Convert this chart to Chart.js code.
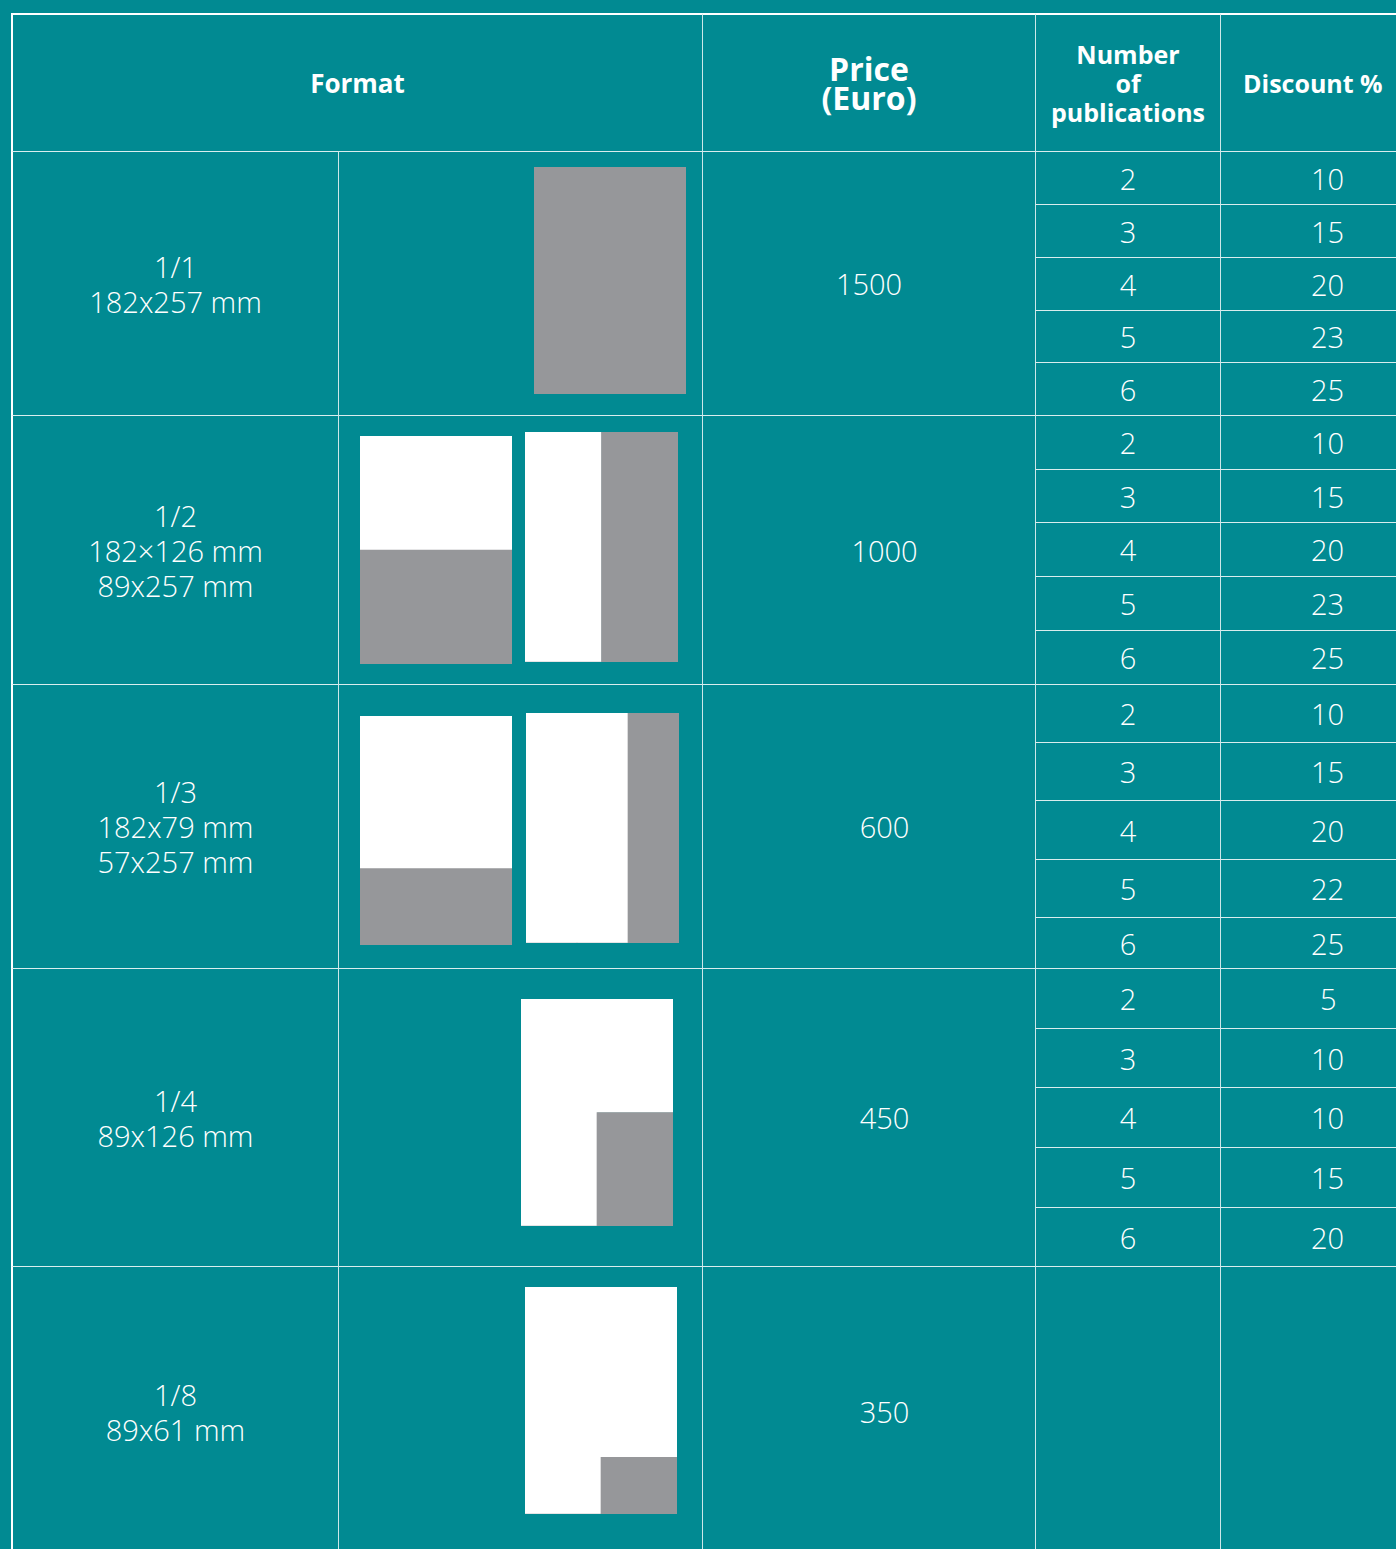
<!DOCTYPE html>
<html>
<head>
<meta charset="utf-8">
<script src="https://cdn.jsdelivr.net/npm/chart.js@4.4.1/dist/chart.umd.min.js"></script>
<style>
  html, body { margin: 0; padding: 0; }
  body { width: 1396px; height: 1549px; overflow: hidden; background: #018a92; font-family: "Open Sans", sans-serif; color: #fff; }
  #sheet { position: absolute; left: 0; top: 0; width: 1396px; height: 1549px; overflow: hidden; }
  .cell { position: absolute; box-sizing: border-box; display: flex; align-items: center; justify-content: center; text-align: center;
          border-top: 1px solid rgba(255,255,255,0.85); border-left: 1px solid rgba(255,255,255,0.8); }
  .head { font-weight: 700; font-size: 25px; line-height: 29px; }
  .format-head { font-size: 26px; }
  .price-head { font-size: 32px; line-height: 29px; }
  .body { font-weight: 300; font-size: 29px; line-height: 35px; }
  .first { border-left: 2px solid #fff; }
  .top { border-top: 2px solid #fff; }
  canvas.icon { position: absolute; }
</style>
</head>
<body>
<div id="sheet"></div>
<script>
// table contents
const formats = ['1/1', '1/2', '1/3', '1/4', '1/8'];
const sizes = [['182x257 mm'], ['182×126 mm', '89x257 mm'], ['182x79 mm', '57x257 mm'], ['89x126 mm'], ['89x61 mm']];
const prices = [1500, 1000, 600, 450, 350];
const publications = [2, 3, 4, 5, 6];
const discounts = [
    [10, 15, 20, 23, 25],
    [10, 15, 20, 23, 25],
    [10, 15, 20, 22, 25],
    [5, 10, 10, 15, 20],
    []
];
// share of each page column taken by the ad (grey), one list per pictogram
const adShares = [
    [[1]],
    [[0.5], [0, 1]],
    [[1 / 3], [0, 0, 1]],
    [[0, 0.5]],
    [[0, 0.25]]
];
const headers = ['Format', 'Price<br>(Euro)', 'Number<br>of<br>publications', 'Discount %'];

// layout
const colX = [11, 338, 702, 1035, 1220, 1436];
const bandY = [13, 151, 415, 684, 968, 1266, 1556];
const subY = [
    [151, 204, 257, 310, 362, 415],
    [415, 469, 522, 576, 630, 684],
    [684, 742, 800, 859, 917, 968],
    [968, 1028, 1087, 1147, 1207, 1266]
];
const iconBoxes = [
    [[534, 167, 152, 227]],
    [[360, 436, 152, 228], [525, 432, 153, 230]],
    [[360, 716, 152, 229], [526, 713, 153, 230]],
    [[521, 999, 152, 227]],
    [[525, 1287, 152, 227]]
];
const GREY = '#96979a';
const WHITE = '#ffffff';

const sheet = document.getElementById('sheet');

function addCell(x0, y0, x1, y1, html, cls) {
    const div = document.createElement('div');
    div.className = 'cell ' + (cls || '');
    div.style.left = x0 + 'px';
    div.style.top = y0 + 'px';
    div.style.width = (x1 - x0) + 'px';
    div.style.height = (y1 - y0) + 'px';
    div.innerHTML = html;
    sheet.appendChild(div);
    return div;
}

// header
addCell(colX[0], bandY[0], colX[2], bandY[1], headers[0], 'head format-head top first');
addCell(colX[2], bandY[0], colX[3], bandY[1], headers[1], 'head price-head top');
addCell(colX[3], bandY[0], colX[4], bandY[1], headers[2], 'head top');
const disc = addCell(colX[4], bandY[0], colX[5], bandY[1], headers[3], 'head top');
disc.style.justifyContent = 'flex-start';
disc.style.paddingLeft = '22px';

formats.forEach((format, i) => {
    const y0 = bandY[i + 1];
    const y1 = bandY[i + 2];
    addCell(colX[0], y0, colX[1], y1, [format].concat(sizes[i]).join('<br>'), 'body first');
    addCell(colX[1], y0, colX[2], y1, '', 'body');
    const price = addCell(colX[2], y0, colX[3], y1, String(prices[i]), 'body');
    if (i > 0) price.style.paddingLeft = '31px';
    if (discounts[i].length === 0) {
        addCell(colX[3], y0, colX[4], y1, '', 'body');
        addCell(colX[4], y0, colX[5], y1, '', 'body');
        return;
    }
    publications.forEach((count, j) => {
        const s0 = subY[i][j];
        const s1 = subY[i][j + 1];
        addCell(colX[3], s0, colX[4], s1, String(count), 'body');
        const d = addCell(colX[4], s0, colX[5], s1, String(discounts[i][j]), 'body');
        d.style.justifyContent = 'flex-start';
        d.style.paddingLeft = (i === 3 && j === 0 ? 99 : 90) + 'px';
    });
});

// pictograms: each page is a stacked bar chart, grey = ad share, white = rest of page
function drawPage(box, shares) {
    const canvas = document.createElement('canvas');
    canvas.className = 'icon';
    canvas.width = box[2];
    canvas.height = box[3];
    canvas.style.left = box[0] + 'px';
    canvas.style.top = box[1] + 'px';
    sheet.appendChild(canvas);
    new Chart(canvas.getContext('2d'), {
        type: 'bar',
        data: {
            labels: shares.map((s, k) => 'c' + k),
            datasets: [
                { label: 'ad', data: shares, backgroundColor: GREY },
                { label: 'page', data: shares.map(s => 1 - s), backgroundColor: WHITE }
            ]
        },
        options: {
            responsive: false,
            animation: false,
            events: [],
            layout: { padding: 0 },
            datasets: { bar: { barPercentage: 1, categoryPercentage: 1, borderWidth: 0 } },
            plugins: { legend: { display: false }, tooltip: { enabled: false } },
            scales: {
                x: { stacked: true, display: false },
                y: { stacked: true, display: false, min: 0, max: 1 }
            }
        }
    });
}

adShares.forEach((pages, i) => {
    pages.forEach((shares, k) => drawPage(iconBoxes[i][k], shares));
});
</script>
</body>
</html>
